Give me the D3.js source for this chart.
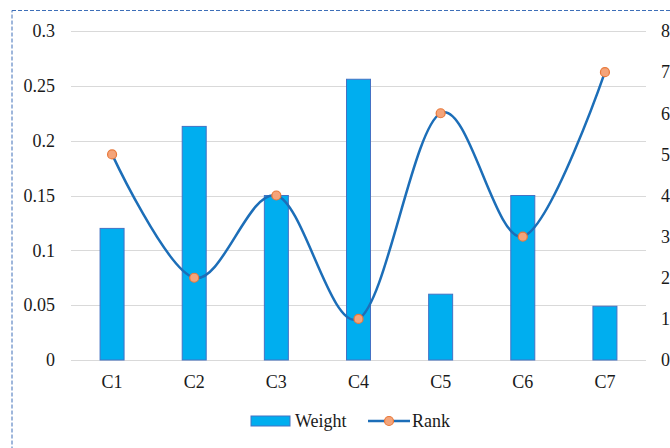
<!DOCTYPE html>
<html>
<head>
<meta charset="utf-8">
<script src="https://cdn.jsdelivr.net/npm/d3@7"></script>
<style>
  html, body { margin: 0; padding: 0; background: #fff; }
  svg { display: block; }
</style>
</head>
<body>
<svg id="chart" width="670" height="448"></svg>
<script>
// Criteria weights and their ranks
const categories = ["C1", "C2", "C3", "C4", "C5", "C6", "C7"];
const weights = [0.12, 0.213, 0.15, 0.256, 0.06, 0.15, 0.049];
const ranks = [5, 2, 4, 1, 6, 3, 7];
const leftTicks = [0, 0.05, 0.1, 0.15, 0.2, 0.25, 0.3];
const rightTicks = [0, 1, 2, 3, 4, 5, 6, 7, 8];

const FONT = "'Liberation Serif'";
const fontSize = "18px";
const textColor = "#1a1a1a";

const svg = d3.select("#chart");
const W = 670, H = 448;
const m = { left: 71, right: 646, top: 31, bottom: 360 };

function styleText(sel) {
  sel.style("font-family", FONT).style("font-size", fontSize).style("fill", textColor);
}

// dashed frame around the chart area
svg.append("rect")
  .attr("x", 12).attr("y", 10.5)
  .attr("width", W + 10).attr("height", H + 10)
  .attr("fill", "none")
  .attr("stroke", "#3E6FB8")
  .attr("stroke-width", 1)
  .attr("stroke-dasharray", "4,2");

const x = d3.scaleBand().domain(categories).range([m.left, m.right]);
const yL = d3.scaleLinear().domain([0, 0.3]).range([m.bottom, m.top]);
const yR = d3.scaleLinear().domain([0, 8]).range([m.bottom, m.top]);

// horizontal gridlines
svg.append("g").selectAll("line").data(leftTicks).join("line")
  .attr("x1", m.left).attr("x2", m.right)
  .attr("y1", d => Math.round(yL(d)) + 0.5).attr("y2", d => Math.round(yL(d)) + 0.5)
  .attr("stroke", "#D9D9D9").attr("stroke-width", 1.2);

// left axis labels
svg.append("g").attr("transform", `translate(${m.left},0)`)
  .call(d3.axisLeft(yL).tickValues(leftTicks).tickSize(0).tickPadding(16).tickFormat(d => String(d)))
  .call(g => g.select(".domain").remove())
  .call(g => styleText(g.selectAll("text")));

// right axis labels
svg.append("g").attr("transform", `translate(${m.right},0)`)
  .call(d3.axisRight(yR).tickValues(rightTicks).tickSize(0).tickPadding(15).tickFormat(d3.format("d")))
  .call(g => g.select(".domain").remove())
  .call(g => styleText(g.selectAll("text")));

// category axis labels
svg.append("g").attr("transform", `translate(0,${m.bottom})`)
  .call(d3.axisBottom(x).tickSize(0).tickPadding(15))
  .call(g => g.select(".domain").remove())
  .call(g => styleText(g.selectAll("text")));

// weight bars
const barW = 24;
svg.append("g").selectAll("rect").data(categories).join("rect")
  .attr("x", d => x(d) + x.bandwidth() / 2 - barW / 2)
  .attr("y", (d, i) => yL(weights[i]))
  .attr("width", barW)
  .attr("height", (d, i) => yL(0) - yL(weights[i]))
  .attr("fill", "#00AEEF")
  .attr("stroke", "#4472C4")
  .attr("stroke-width", 1);

// rank line (smoothed)
const pts = categories.map((c, i) => [x(c) + x.bandwidth() / 2, yR(ranks[i])]);
svg.append("path")
  .attr("d", d3.line().curve(d3.curveCardinal.tension(0))(pts))
  .attr("fill", "none")
  .attr("stroke", "#1C6EB8")
  .attr("stroke-width", 2.5);

svg.append("g").selectAll("circle").data(pts).join("circle")
  .attr("cx", d => d[0]).attr("cy", d => d[1]).attr("r", 4.5)
  .attr("fill", "#F4A47A")
  .attr("stroke", "#E8783A")
  .attr("stroke-width", 1.2);

// legend
const lg = svg.append("g");
lg.append("rect").attr("x", 251).attr("y", 416).attr("width", 39).attr("height", 10)
  .attr("fill", "#00AEEF").attr("stroke", "#4472C4").attr("stroke-width", 1);
lg.append("text").attr("x", 295).attr("y", 421).attr("dy", "0.35em")
  .call(styleText).text("Weight");
lg.append("line").attr("x1", 368).attr("x2", 410).attr("y1", 421).attr("y2", 421)
  .attr("stroke", "#1C6EB8").attr("stroke-width", 2.5);
lg.append("circle").attr("cx", 389).attr("cy", 421).attr("r", 4.5)
  .attr("fill", "#F4A47A").attr("stroke", "#E8783A").attr("stroke-width", 1.2);
lg.append("text").attr("x", 412).attr("y", 421).attr("dy", "0.35em")
  .call(styleText).text("Rank");
</script>
</body>
</html>
